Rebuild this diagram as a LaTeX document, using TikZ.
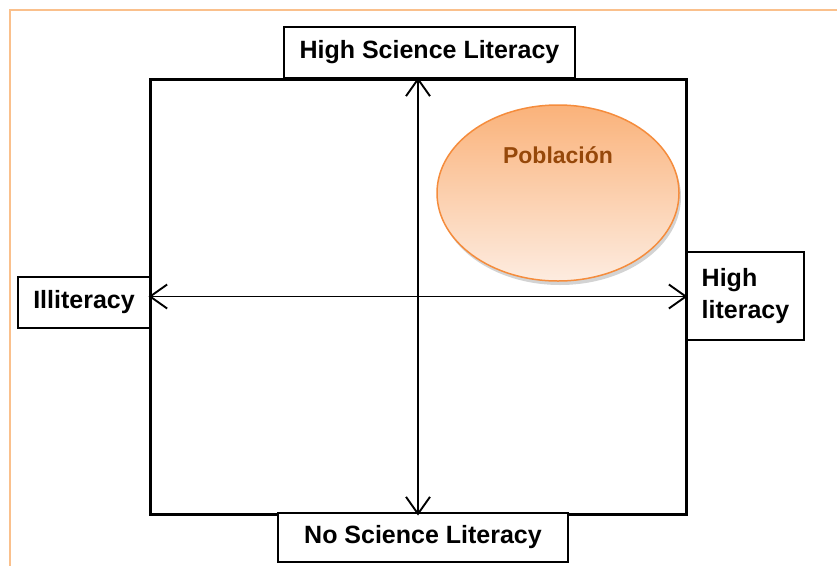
\documentclass[tikz,border=0pt]{standalone}
\usepackage{fontspec}
\setmainfont{Liberation Sans}
\usetikzlibrary{arrows.meta,shadows,shapes.geometric}
\definecolor{frameorange}{RGB}{250,192,140}
\definecolor{elltop}{RGB}{250,178,122}
\definecolor{ellbot}{RGB}{253,236,224}
\definecolor{ellborder}{RGB}{245,140,60}
\definecolor{poptext}{RGB}{150,72,10}
\tikzset{
  labelbox/.style={draw=black, line width=2.2pt, fill=white, inner sep=0pt,
    font=\fontsize{25}{32}\selectfont\bfseries},
  barb/.style={Straight Barb[length=17pt,width=24pt,line width=1.9pt]},
  axis arrow/.style={line width=1.9pt, {Straight Barb[length=17pt,width=24pt,line width=1.9pt]}-{Straight Barb[length=17pt,width=24pt,line width=1.9pt]}}
}
\begin{document}
\begin{tikzpicture}[x=1pt,y=-1pt]
\useasboundingbox (0,0) rectangle (837,565);
\draw[frameorange, line width=2.5pt] (10,570) -- (10,10) -- (840,10);
% main box
\node[draw=black, line width=3pt, minimum width=536pt, minimum height=435pt, inner sep=0pt] (main) at (418,296.5) {};
% label boxes
\node[labelbox, minimum width=291pt, minimum height=51pt] (top) at (429.5,52.5) {High Science Literacy};
\node[labelbox, minimum width=132pt, minimum height=51pt] (left) at (84,302.5) {Illiteracy};
\node[labelbox, minimum width=117pt, minimum height=88pt, align=left] (right) at (745.5,296) {High\\literacy};
\node[labelbox, minimum width=290pt, minimum height=49pt] (bottom) at (423,537.5) {No Science Literacy};
% axes
\draw[axis arrow] (main.north) -- (main.south);
\draw[axis arrow] (main.west) -- (main.east);
% ellipse
\node[ellipse, draw=ellborder, line width=1.5pt, minimum width=242pt, minimum height=176pt,
  top color=elltop, bottom color=ellbot,
  drop shadow={shadow xshift=2pt, shadow yshift=-4pt, opacity=0.35, fill=gray}] (pop) at (558,193) {};
\node[font=\fontsize{23}{28}\selectfont\bfseries, text=poptext] (poplabel) at (558,155) {Población};
\end{tikzpicture}
\end{document}
